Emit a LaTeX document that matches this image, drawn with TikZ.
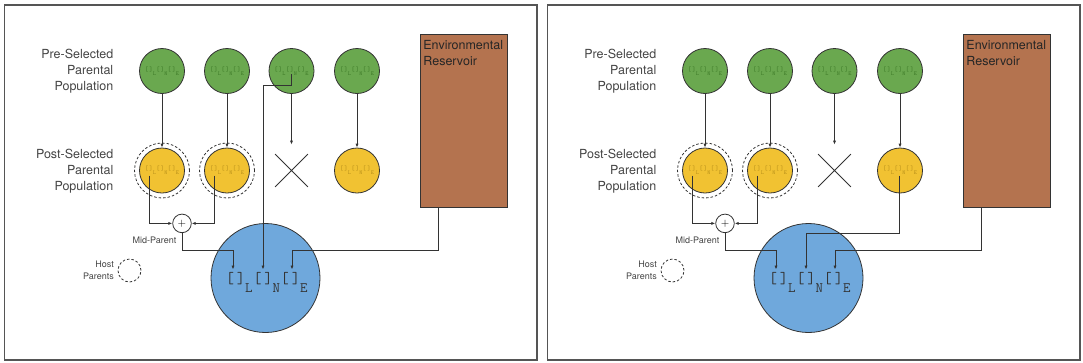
\documentclass[tikz,border=0pt]{standalone}
\usepackage{fontspec}
\usepackage{graphicx}
\setmainfont{TeX Gyre Heros}
\usetikzlibrary{arrows.meta,shapes.misc}

\definecolor{edge}{HTML}{333333}
\definecolor{framegray}{HTML}{555555}
\definecolor{labelgray}{HTML}{444444}
\definecolor{popgreen}{HTML}{6AA84F}
\definecolor{popyellow}{HTML}{F1C232}
\definecolor{hostblue}{HTML}{6FA8DC}
\definecolor{resbrown}{HTML}{B4734F}
\definecolor{genegreen}{HTML}{3D7A27}
\definecolor{geneyellow}{HTML}{B8901A}

% gene slots with their lowered tags
\newcommand{\gsub}[1]{\raisebox{-0.55em}{\scalebox{0.9}{#1}}\kern0.04em}
\newcommand{\genes}{[\kern0.18em]\gsub{L}[\kern0.18em]\gsub{N}[\kern0.18em]\gsub{E}}

\begin{document}
\begin{tikzpicture}[x=1pt, y=-1pt, line width=0.8pt,
    frame/.style={draw=framegray, line width=1.2pt},
    pre/.style={draw=edge, fill=popgreen, circle, inner sep=0pt, minimum size=45pt,
      text=genegreen, font=\ttfamily\fontsize{6.5}{7}\selectfont},
    post/.style={pre, fill=popyellow, text=geneyellow},
    ring/.style={draw=edge, circle, dash pattern=on 2.5pt off 2pt, inner sep=0pt, minimum size=55pt},
    lbl/.style={text=labelgray, align=right, font=\fontsize{12.5}{16}\selectfont},
    small/.style={text=labelgray, align=right, font=\fontsize{9}{12}\selectfont},
    link/.style={draw=edge, -{Latex[length=4pt,width=3.2pt]}}]
  \useasboundingbox (0,0) rectangle (1083,362);

  \foreach \p/\dx in {a/0,b/543}{
    \begin{scope}[shift={(\dx,0)}, name prefix/.expanded=\p-]
      \draw[frame] (4.5,5) rectangle (537,360);

      \node[lbl, anchor=east] (prelbl) at (117,71.5) {Pre-Selected\\Parental\\Population};
      \node[lbl, anchor=east] (postlbl) at (117,171) {Post-Selected\\Parental\\Population};

      \node[pre] (g1) at (162,71) {\genes};
      \node[pre] (g2) at (227,71) {\genes};
      \node[pre] (g3) at (291.5,71) {\genes};
      \node[pre] (g4) at (357,71) {\genes};

      \node[post] (y1) at (162,170.5) {\genes};
      \node[post] (y2) at (227,170.5) {\genes};
      \node[cross out, draw=edge, inner sep=0pt, minimum size=32pt] (x3) at (291.5,170.5) {};
      \node[post] (y4) at (357,170.5) {\genes};
      \node[ring] (r1) at (y1) {};
      \node[ring] (r2) at (y2) {};

      \node[draw=edge, fill=resbrown, inner sep=0pt, minimum width=87pt, minimum height=173pt] (res) at (463.5,121) {};
      \node[anchor=north west, inner sep=0pt, align=left, text=black!85, font=\fontsize{12.5}{16}\selectfont]
        (restxt) at ([shift={(3.4,5.5)}]res.north west) {Environmental\\Reservoir};

      \node[draw=edge, fill=white, circle, inner sep=0pt, minimum size=18.6pt, font=\fontsize{11}{11}\selectfont] (plus) at (182,223.4) {$+$};
      \node[small, anchor=east] (midlbl) at (180,240) {Mid-Parent};

      \node[ring, minimum size=23pt] (host) at (129.5,270.5) {};
      \node[small, anchor=east] (hostlbl) at (host.west) {Host\\Parents};

      \node[draw=edge, fill=hostblue, circle, inner sep=0pt, minimum size=109pt] (blue) at (265.5,278) {};
      \node[anchor=base, text=edge, font=\ttfamily\fontsize{16}{16}\selectfont] (genes) at (267,283.5) {\genes};
      \coordinate (tL) at ([shift={(-32.5,-8.5)}]blue.center);
      \coordinate (tN) at ([shift={(-2.5,-8.5)}]blue.center);
      \coordinate (tE) at ([shift={(26.5,-8.5)}]blue.center);

      \draw[link] (g1) -- (y1);
      \draw[link] (g2) -- (y2);
      \draw[link, shorten >=9.5pt] (g3) -- (x3);
      \draw[link] (g4) -- (y4);
      \draw[link] ([shift={(-13,5)}]y1.center) |- (plus);
      \draw[link] ([shift={(-13,5)}]y2.center) |- (plus);
      \draw[link] (plus.south) -- ++(0,17.3) -| (tL);
      \draw[link] ([xshift=-25.5pt]res.south) -- ++(0,42.5) -| (tE);
    \end{scope}
  }

  % N slot: taken from the culled parent (left), from a survivor (right)
  \draw[link] ([shift={(0,3)}]a-g3.center) -- ++(0,11) -| (a-tN);
  \draw[link] ([shift={(-1,5)}]b-y4.center) -- ++(0,57.5) -| (b-tN);
\end{tikzpicture}
\end{document}
